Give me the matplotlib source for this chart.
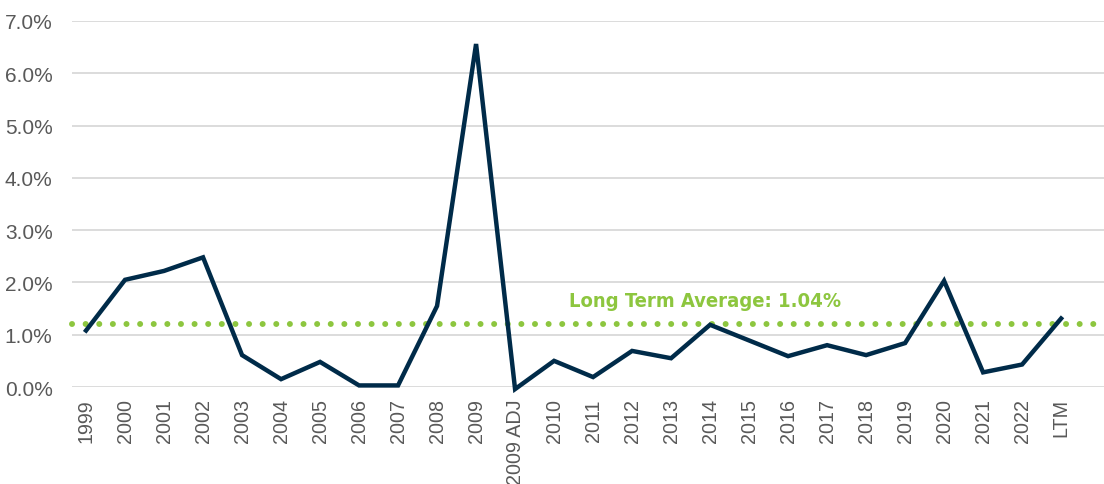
import matplotlib
matplotlib.use("Agg")
import matplotlib.pyplot as plt
from matplotlib.ticker import FuncFormatter

# data
years = ['1999', '2000', '2001', '2002', '2003', '2004', '2005', '2006', '2007',
         '2008', '2009', '2009 ADJ', '2010', '2011', '2012', '2013', '2014',
         '2015', '2016', '2017', '2018', '2019', '2020', '2021', '2022', 'LTM']
rates = [1.08, 2.05, 2.22, 2.48, 0.61, 0.15, 0.48, 0.03, 0.03, 1.55, 6.56, -0.04,
         0.50, 0.19, 0.69, 0.55, 1.19, 0.89, 0.59, 0.80, 0.61, 0.84, 2.03, 0.28,
         0.43, 1.31]
avg_line = 1.2
avg_label = 'Long Term Average: 1.04%'

plt.rcParams['font.family'] = ['Liberation Sans', 'DejaVu Sans']

fig = plt.figure(figsize=(11.04, 4.85), dpi=100)
ax = fig.add_axes([72 / 1104, 1 - 388 / 485, 1 - 72 / 1104, (388 - 22) / 485])

x = list(range(len(years)))
ax.plot(x, rates, color='#002b49', linewidth=3.2, solid_joinstyle='miter',
        clip_on=False, zorder=3)

# dotted average line
ax.plot([-0.36, 25.86], [avg_line, avg_line], color='#8dc63f', linewidth=4.3,
        linestyle=(0, (0.01, 2.27)), dash_capstyle='round', clip_on=False, zorder=2)
ax.text(15.86, 1.65, avg_label, color='#8dc63f', fontsize=14.5, fontweight='bold',
        family='DejaVu Sans', fontstretch='condensed', ha='center', va='center')

ax.set_ylim(0, 7)
ax.set_xlim(-0.36, 26.1)
ax.set_yticks(range(0, 8))
ax.yaxis.set_major_formatter(FuncFormatter(lambda v, p: f'{v:.1f}%'))
ax.set_xticks(x)
ax.set_xticklabels(years, rotation=90)
ax.tick_params(axis='both', length=0, labelcolor='#595959')
ax.tick_params(axis='y', pad=14, labelsize=15)
ax.tick_params(axis='x', pad=8, labelsize=14.2)

ax.grid(axis='y', color='#d9d9d9', linewidth=1.3)
ax.set_axisbelow(True)
for s in ax.spines.values():
    s.set_visible(False)

fig.savefig('out.png', dpi=100)
